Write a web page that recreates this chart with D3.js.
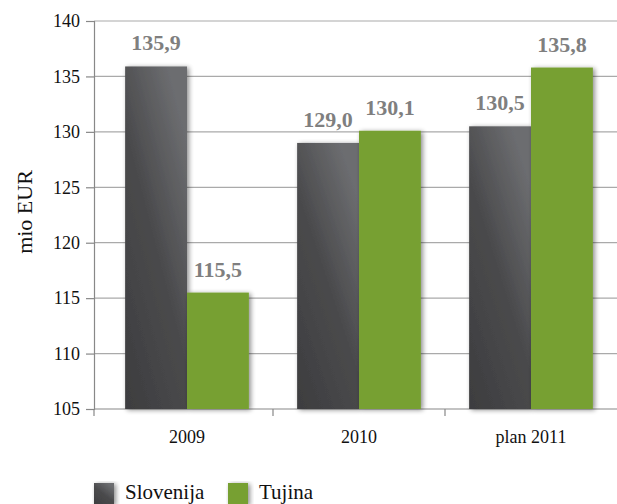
<!DOCTYPE html>
<html lang="sl">
<head>
<meta charset="utf-8">
<title>mio EUR - Slovenija / Tujina</title>
<script src="https://d3js.org/d3.v7.min.js"></script>
<style>
body { margin: 0; background: #fff; }
</style>
</head>
<body>
<div id="chart"></div>
<script>
// data
var categories = ["2009", "2010", "plan 2011"];
var series = ["Slovenija", "Tujina"];
var slovenija = [135.9, 129.0, 130.5];
var tujina = [115.5, 130.1, 135.8];
var yTicks = [105, 110, 115, 120, 125, 130, 135, 140];

var W = 617, H = 504;
var plotLeft = 94, plotRight = 617, plotTop = 21, plotBottom = 409;
var serif = "Liberation Serif, Times New Roman, serif";

var svg = d3.select("#chart").append("svg")
  .attr("width", W).attr("height", H)
  .attr("font-family", serif);

var defs = svg.append("defs");
var grad = defs.append("linearGradient").attr("id", "darkGrad")
  .attr("x1", "0%").attr("y1", "100%").attr("x2", "70%").attr("y2", "0%");
grad.append("stop").attr("offset", "0%").attr("stop-color", "#3d3d3f");
grad.append("stop").attr("offset", "55%").attr("stop-color", "#4a4a4c");
grad.append("stop").attr("offset", "100%").attr("stop-color", "#6c6d70");

var shadow = defs.append("filter").attr("id", "shadow")
  .attr("x", "-20%").attr("y", "-10%").attr("width", "150%").attr("height", "130%");
shadow.append("feGaussianBlur").attr("in", "SourceAlpha").attr("stdDeviation", 2.5).attr("result", "b");
shadow.append("feOffset").attr("in", "b").attr("dx", 2).attr("dy", 1).attr("result", "o");
shadow.append("feComponentTransfer").attr("in", "o").attr("result", "s")
  .append("feFuncA").attr("type", "linear").attr("slope", 0.45);
var merge = shadow.append("feMerge");
merge.append("feMergeNode").attr("in", "s");
merge.append("feMergeNode").attr("in", "SourceGraphic");

var color = d3.scaleOrdinal().domain(series).range(["url(#darkGrad)", "#77a030"]);

var x0 = d3.scaleBand().domain(categories).range([101, plotRight]).paddingInner(0).paddingOuter(0);
var x1 = d3.scaleBand().domain(series).range([0, x0.bandwidth()]).paddingOuter(0.39).paddingInner(0);
var y = d3.scaleLinear().domain([105, 140]).range([plotBottom, plotTop]);

// gridlines
svg.append("g").selectAll("line").data(yTicks.slice(1)).enter().append("line")
  .attr("x1", plotLeft).attr("x2", plotRight)
  .attr("y1", function(d) { return y(d); }).attr("y2", function(d) { return y(d); })
  .attr("stroke", "#aaaaaa").attr("stroke-width", 1.2);

// y axis
var yAxis = svg.append("g").attr("transform", "translate(" + plotLeft + ",0)")
  .call(d3.axisLeft(y).tickValues(yTicks).tickSize(8).tickPadding(6));
yAxis.attr("font-family", serif);
yAxis.select(".domain").attr("stroke", "#888").attr("stroke-width", 1.2);
yAxis.selectAll(".tick line").attr("stroke", "#888").attr("stroke-width", 1.2);
yAxis.selectAll("text").attr("font-size", 18).attr("fill", "#111");

// x axis baseline with ticks at category borders
svg.append("line").attr("x1", plotLeft).attr("x2", plotRight).attr("y1", plotBottom).attr("y2", plotBottom)
  .attr("stroke", "#888").attr("stroke-width", 1.2);
var borders = [plotLeft].concat(categories.slice(1).map(function(c) { return x0(c); }));
svg.append("g").selectAll("line").data(borders).enter().append("line")
  .attr("x1", function(d) { return d; }).attr("x2", function(d) { return d; })
  .attr("y1", plotBottom).attr("y2", plotBottom + 7)
  .attr("stroke", "#888").attr("stroke-width", 1.2);
svg.append("g").selectAll("text").data(categories).enter().append("text")
  .attr("x", function(d) { return x0(d) + x0.bandwidth() / 2; })
  .attr("y", 443)
  .attr("text-anchor", "middle").attr("font-size", 18).attr("fill", "#111")
  .text(function(d) { return d; });

// bars
var rows = categories.map(function(c, i) {
  return { cat: c, vals: [{ key: "Slovenija", v: slovenija[i] }, { key: "Tujina", v: tujina[i] }] };
});
var groups = svg.append("g").selectAll("g").data(rows).enter().append("g")
  .attr("transform", function(d) { return "translate(" + x0(d.cat) + ",0)"; });

groups.selectAll("rect").data(function(d) { return d.vals; }).enter().append("rect")
  .attr("x", function(d) { return x1(d.key); })
  .attr("y", function(d) { return y(d.v); })
  .attr("width", x1.bandwidth())
  .attr("height", function(d) { return y(105) - y(d.v); })
  .attr("fill", function(d) { return color(d.key); })
  .attr("filter", "url(#shadow)");

groups.selectAll("text").data(function(d) { return d.vals; }).enter().append("text")
  .attr("x", function(d) { return x1(d.key) + x1.bandwidth() / 2; })
  .attr("y", function(d) { return y(d.v) - 16; })
  .attr("text-anchor", "middle")
  .attr("font-size", 22).attr("font-weight", "bold").attr("fill", "#7f7f7f")
  .text(function(d) { return d3.format(".1f")(d.v).replace(".", ","); });

// y axis title
svg.append("text")
  .attr("transform", "translate(32,212) rotate(-90)")
  .attr("text-anchor", "middle").attr("font-size", 22).attr("fill", "#111")
  .text("mio EUR");

// legend
var legend = svg.append("g").selectAll("g").data(series).enter().append("g")
  .attr("transform", function(d, i) { return "translate(" + (i === 0 ? 94 : 228) + ",483)"; });
legend.append("rect").attr("width", 20).attr("height", 22)
  .attr("fill", function(d) { return color(d); })
  .attr("filter", "url(#shadow)");
legend.append("text").attr("x", 31).attr("y", 16)
  .attr("font-size", 21).attr("fill", "#111")
  .text(function(d) { return d; });
</script>
</body>
</html>
